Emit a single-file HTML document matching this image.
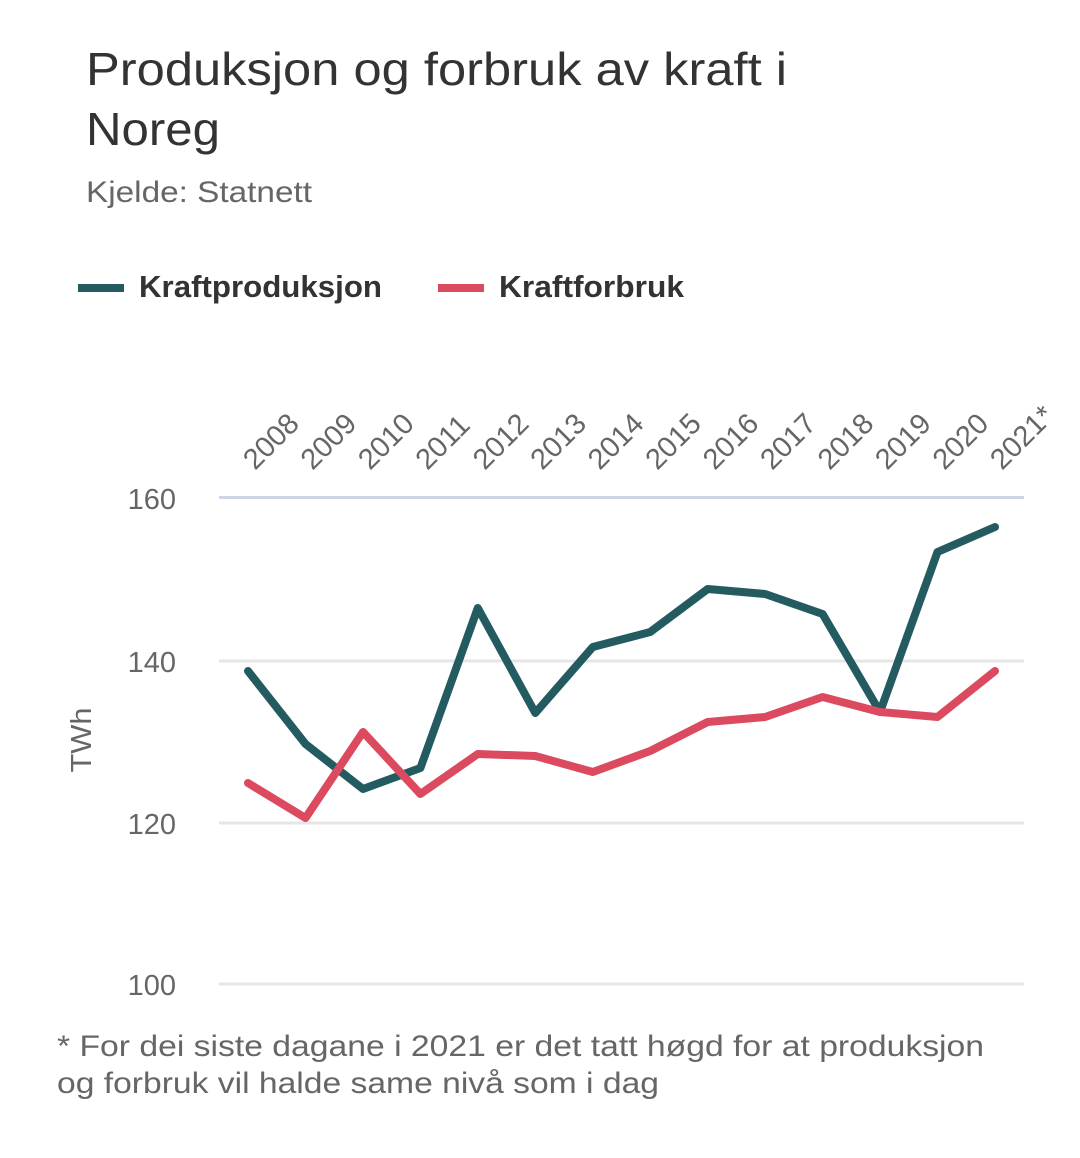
<!DOCTYPE html>
<html><head><meta charset="utf-8"><style>
html,body{margin:0;padding:0;background:#fff;}
svg{display:block;}
text{font-family:"Liberation Sans",sans-serif;}
</style></head><body>
<svg width="1080" height="1158" viewBox="0 0 1080 1158" xmlns="http://www.w3.org/2000/svg">
<rect width="1080" height="1158" fill="#fff"/>
<text x="86" y="85" font-size="46" fill="#333" textLength="701" lengthAdjust="spacingAndGlyphs">Produksjon og forbruk av kraft i</text>
<text x="86" y="145" font-size="46" fill="#333" textLength="134" lengthAdjust="spacingAndGlyphs">Noreg</text>
<text x="86" y="202" font-size="30" fill="#666" textLength="226" lengthAdjust="spacingAndGlyphs">Kjelde: Statnett</text>
<rect x="78" y="284" width="46" height="8" fill="#235b61"/>
<text x="139" y="297" font-size="31" font-weight="bold" fill="#333" textLength="243" lengthAdjust="spacingAndGlyphs">Kraftproduksjon</text>
<rect x="438" y="284" width="46" height="8" fill="#dc4a5f"/>
<text x="499" y="297" font-size="31" font-weight="bold" fill="#333" textLength="185" lengthAdjust="spacingAndGlyphs">Kraftforbruk</text>
<g stroke-width="3">
<line x1="219" y1="497.5" x2="1024" y2="497.5" stroke="#ccd6e6"/>
<line x1="219" y1="661" x2="1024" y2="661" stroke="#e6e6e6"/>
<line x1="219" y1="823" x2="1024" y2="823" stroke="#e6e6e6"/>
<line x1="219" y1="984" x2="1024" y2="984" stroke="#e6e6e6"/>
</g>
<g font-size="29" fill="#666" text-anchor="end">
<text x="176" y="509">160</text>
<text x="176" y="672">140</text>
<text x="176" y="834">120</text>
<text x="176" y="995">100</text>
</g>
<text transform="translate(91,740) rotate(-90)" font-size="29" fill="#666" text-anchor="middle" textLength="65" lengthAdjust="spacingAndGlyphs">TWh</text>
<g font-size="29" fill="#666">
<text transform="translate(255,471) rotate(-45)">2008</text>
<text transform="translate(312.5,471) rotate(-45)">2009</text>
<text transform="translate(370,471) rotate(-45)">2010</text>
<text transform="translate(427.4,471) rotate(-45)">2011</text>
<text transform="translate(484.8,471) rotate(-45)">2012</text>
<text transform="translate(542.3,471) rotate(-45)">2013</text>
<text transform="translate(599.8,471) rotate(-45)">2014</text>
<text transform="translate(657.2,471) rotate(-45)">2015</text>
<text transform="translate(714.7,471) rotate(-45)">2016</text>
<text transform="translate(772.1,471) rotate(-45)">2017</text>
<text transform="translate(829.6,471) rotate(-45)">2018</text>
<text transform="translate(887,471) rotate(-45)">2019</text>
<text transform="translate(944.5,471) rotate(-45)">2020</text>
<text transform="translate(1002,471) rotate(-45)">2021*</text>
</g>
<polyline fill="none" stroke="#235b61" stroke-width="8" stroke-linejoin="round" stroke-linecap="round"
points="248,671 305.5,744 363,789 420.4,768 477.8,608 535.3,713 592.8,647 650.2,632 707.7,589 765.1,594 822.6,614 880,712 937.5,552 995,527"/>
<polyline fill="none" stroke="#dc4a5f" stroke-width="8" stroke-linejoin="round" stroke-linecap="round"
points="248,783 305.5,818 363,732 420.4,794 477.8,754 535.3,756 592.8,772 650.2,751 707.7,722 765.1,717 822.6,697 880,712 937.5,717 995,671"/>
<text x="57" y="1056" font-size="30" fill="#666" textLength="927" lengthAdjust="spacingAndGlyphs">* For dei siste dagane i 2021 er det tatt høgd for at produksjon</text>
<text x="57" y="1093" font-size="30" fill="#666" textLength="602" lengthAdjust="spacingAndGlyphs">og forbruk vil halde same nivå som i dag</text>
</svg>
</body></html>
